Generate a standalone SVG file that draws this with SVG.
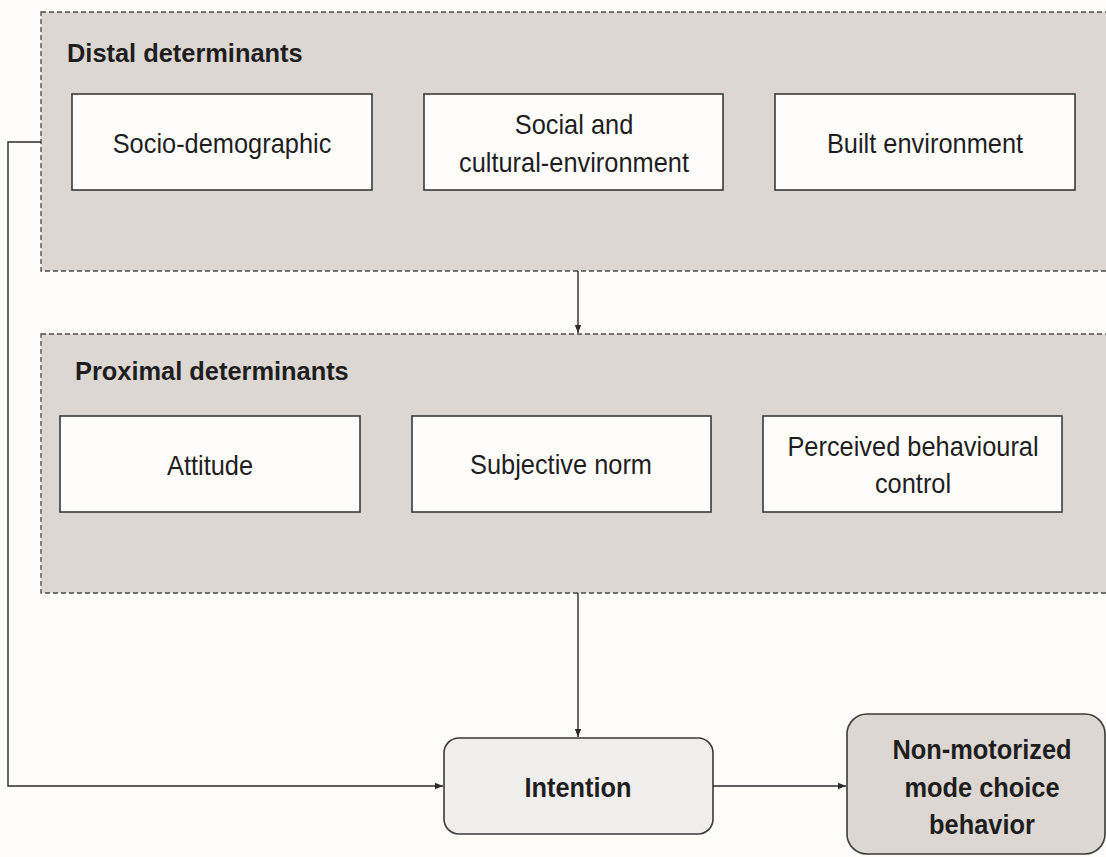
<svg xmlns="http://www.w3.org/2000/svg" width="1106" height="857" viewBox="0 0 1106 857">
<defs>
<marker id="arr" viewBox="0 0 10 10" refX="10" refY="5" markerWidth="8" markerHeight="8" markerUnits="userSpaceOnUse" orient="auto">
<path d="M0,1 L10,5 L0,9 Z" fill="#2a2a2a"/>
</marker>
<style>
.bg{fill:#fdfcf9}
.grp{fill:#dcd7d3;stroke:#4a4a4a;stroke-width:1.3;stroke-dasharray:5 3}
.box{fill:#fefdfb;stroke:#3a3a3a;stroke-width:1.6}
.t{font-family:"Liberation Sans",Arial,sans-serif;font-size:25.4px;fill:#1e1e1e;text-anchor:middle}
.h{font-family:"Liberation Sans",Arial,sans-serif;font-size:25.4px;font-weight:bold;fill:#1e1e1e}
.b{font-family:"Liberation Sans",Arial,sans-serif;font-size:25.4px;font-weight:bold;fill:#1e1e1e;text-anchor:middle}
.c{fill:none;stroke:#2a2a2a;stroke-width:1.4}
</style>
</defs>
<rect class="bg" x="0" y="0" width="1106" height="857"/>
<g id="distal">
<rect class="grp" x="41" y="12" width="1075" height="259"/>
<text class="h" transform="translate(67,62) scale(1,1.05)">Distal determinants</text>
</g>
<g id="socio">
<rect class="box" x="72" y="94" width="300" height="96"/>
<text class="t" transform="translate(222,153) scale(1,1.1)">Socio-demographic</text>
</g>
<g id="social">
<rect class="box" x="424" y="94" width="299" height="96"/>
<text class="t" transform="translate(574,134) scale(1,1.1)">Social and</text>
<text class="t" transform="translate(574,172) scale(1,1.1)">cultural-environment</text>
</g>
<g id="built">
<rect class="box" x="775" y="94" width="300" height="96"/>
<text class="t" transform="translate(925,153) scale(1,1.1)">Built environment</text>
</g>
<g id="proximal">
<rect class="grp" x="41" y="334" width="1075" height="259"/>
<text class="h" transform="translate(75,380) scale(1,1.05)">Proximal determinants</text>
</g>
<g id="attitude">
<rect class="box" x="60" y="416" width="300" height="96"/>
<text class="t" transform="translate(210,475) scale(1,1.1)">Attitude</text>
</g>
<g id="subjective">
<rect class="box" x="412" y="416" width="299" height="96"/>
<text class="t" transform="translate(561,474) scale(1,1.1)">Subjective norm</text>
</g>
<g id="perceived">
<rect class="box" x="763" y="416" width="299" height="96"/>
<text class="t" transform="translate(913,456) scale(1,1.1)">Perceived behavioural</text>
<text class="t" transform="translate(913,493) scale(1,1.1)">control</text>
</g>
<g id="intention">
<rect x="444" y="738" width="269" height="96" rx="15" ry="15" fill="#f1efee" stroke="#3a3a3a" stroke-width="1.6"/>
<text class="b" transform="translate(578,797) scale(1,1.08)">Intention</text>
</g>
<g id="behavior">
<rect x="847" y="714" width="258" height="140" rx="20" ry="20" fill="#dcd7d3" stroke="#3a3a3a" stroke-width="1.6"/>
<text class="b" transform="translate(982,759) scale(1,1.08)">Non-motorized</text>
<text class="b" transform="translate(982,797) scale(1,1.08)">mode choice</text>
<text class="b" transform="translate(982,834) scale(1,1.08)">behavior</text>
</g>
<g id="connectors">
<line class="c" x1="578" y1="271" x2="578" y2="333" marker-end="url(#arr)"/>
<line class="c" x1="578" y1="593" x2="578" y2="737" marker-end="url(#arr)"/>
<polyline class="c" points="41,142 8,142 8,786 443,786" marker-end="url(#arr)"/>
<line class="c" x1="713" y1="786" x2="846" y2="786" marker-end="url(#arr)"/>
</g>
</svg>
